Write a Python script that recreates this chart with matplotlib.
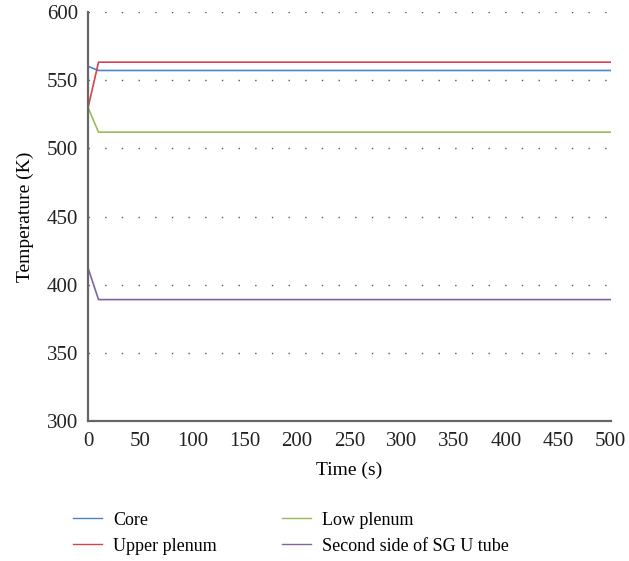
import matplotlib
matplotlib.use("Agg")
import matplotlib.pyplot as plt

time_s = [0, 10, 500]
core = [560.3, 557.3, 557.3]
upper_plenum = [530, 563.4, 563.4]
low_plenum = [530, 512, 512]
sg_second_side = [412.2, 389, 389]

labels = ["Core", "Upper plenum", "Low plenum", "Second side of SG U tube"]
colors = ["#4a86c8", "#d5434a", "#9bbb59", "#8064a2"]

plt.rcParams['font.family'] = ['Liberation Serif', 'DejaVu Serif']

fig = plt.figure(figsize=(6.29, 5.61), dpi=100)
ax = fig.add_axes([0.140, 0.250, 0.831, 0.728])

series = [core, upper_plenum, low_plenum, sg_second_side]
for ys, lab, c in zip(series, labels, colors):
    ax.plot(time_s, ys, color=c, lw=1.2, label=lab)

ax.set_xlim(0, 500)
ax.set_ylim(300, 600)
ax.set_xticks(range(0, 501, 50))
ax.set_yticks(range(300, 601, 50))
for y in range(350, 601, 50):
    ax.axhline(y, color="#555555", lw=1.0, ls=(0, (1, 11)), zorder=0)

for s in ["top", "right"]:
    ax.spines[s].set_visible(False)
for s in ["left", "bottom"]:
    ax.spines[s].set_color("#666666")
    ax.spines[s].set_linewidth(1.6)
ax.tick_params(length=0, labelsize=15, colors="#222222")
ax.tick_params(axis="y", pad=7)
ax.tick_params(axis="x", pad=8)
ax.set_xlabel("Time (s)", fontsize=14, labelpad=8)
ax.set_ylabel("Temperature (K)", fontsize=14, labelpad=9)

handles, labs = ax.get_legend_handles_labels()
leg = fig.legend(handles, labs, ncol=2, loc="upper left",
                 bbox_to_anchor=(0.091, 0.117), frameon=False, fontsize=13,
                 handlelength=1.6, handletextpad=0.6, columnspacing=3.6,
                 labelspacing=0.5)
for l in leg.get_lines():
    l.set_linewidth(1.0)

fig.savefig("out.png", dpi=100)
